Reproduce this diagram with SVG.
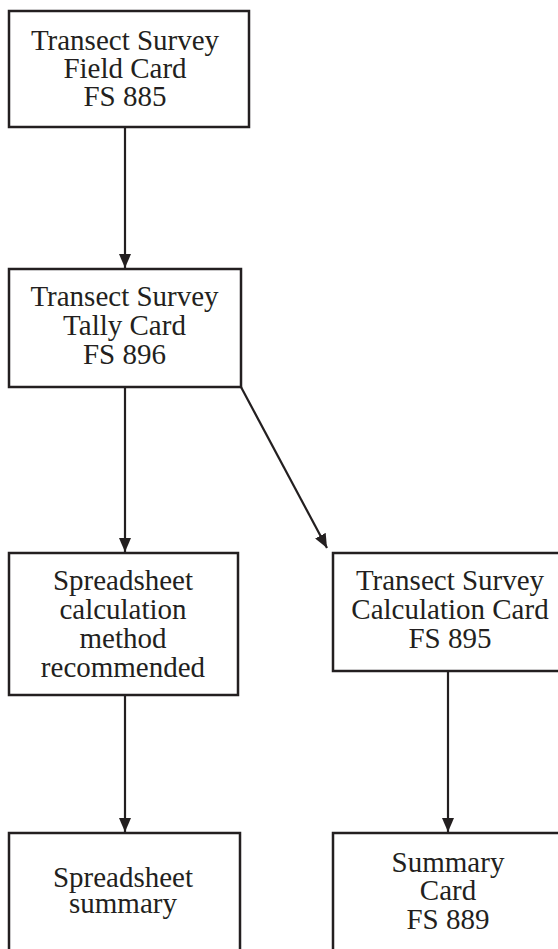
<svg xmlns="http://www.w3.org/2000/svg" width="558" height="949" viewBox="0 0 558 949">
<defs>
<style>
.box{fill:#fff;stroke:#231f20;stroke-width:2.5}
.t{font-family:"Liberation Serif","Times New Roman",serif;font-size:29px;fill:#231f20;text-anchor:middle}
.c{stroke:#231f20;stroke-width:2.2;fill:none}
</style>
<marker id="ah" viewBox="0 0 14 12" refX="14" refY="6" markerWidth="14" markerHeight="12" markerUnits="userSpaceOnUse" orient="auto">
<path d="M0,0 L14,6 L0,12 Z" fill="#231f20"/>
</marker>
</defs>
<rect width="558" height="949" fill="#fff"/>
<g id="connectors">
<line class="c" x1="125" y1="127" x2="125" y2="268" marker-end="url(#ah)"/>
<line class="c" x1="125" y1="387" x2="125" y2="552" marker-end="url(#ah)"/>
<line class="c" x1="241" y1="387" x2="327" y2="548" marker-end="url(#ah)"/>
<line class="c" x1="125" y1="695" x2="125" y2="832" marker-end="url(#ah)"/>
<line class="c" x1="448" y1="671" x2="448" y2="832" marker-end="url(#ah)"/>
</g>
<g id="n1">
<rect class="box" x="9" y="11" width="240" height="116"/>
<text class="t" x="125" y="50">Transect Survey</text>
<text class="t" x="125" y="78">Field Card</text>
<text class="t" x="125" y="106">FS 885</text>
</g>
<g id="n2">
<rect class="box" x="9" y="269" width="232" height="118"/>
<text class="t" x="124.5" y="306">Transect Survey</text>
<text class="t" x="124.5" y="335">Tally Card</text>
<text class="t" x="124.5" y="364">FS 896</text>
</g>
<g id="n3">
<rect class="box" x="9" y="553" width="229" height="142"/>
<text class="t" x="123" y="590">Spreadsheet</text>
<text class="t" x="123" y="619">calculation</text>
<text class="t" x="123" y="648">method</text>
<text class="t" x="123" y="677">recommended</text>
</g>
<g id="n4">
<rect class="box" x="333" y="553" width="230" height="118"/>
<text class="t" x="450" y="590">Transect Survey</text>
<text class="t" x="450" y="619">Calculation Card</text>
<text class="t" x="450" y="648">FS 895</text>
</g>
<g id="n5">
<rect class="box" x="9" y="833" width="231" height="130"/>
<text class="t" x="123" y="887">Spreadsheet</text>
<text class="t" x="123" y="913">summary</text>
</g>
<g id="n6">
<rect class="box" x="333" y="833" width="230" height="130"/>
<text class="t" x="448" y="872">Summary</text>
<text class="t" x="448" y="900">Card</text>
<text class="t" x="448" y="929">FS 889</text>
</g>
</svg>
